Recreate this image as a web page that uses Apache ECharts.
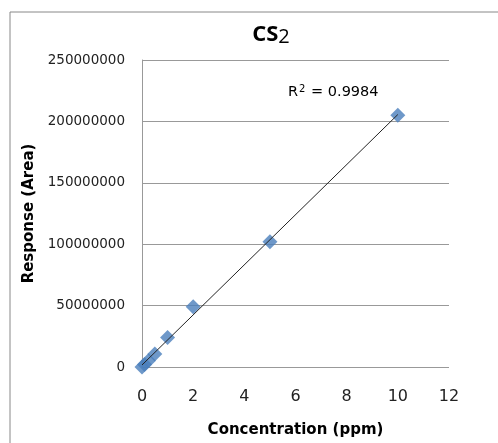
<!DOCTYPE html>
<html>
<head>
<meta charset="utf-8">
<script src="https://cdn.jsdelivr.net/npm/echarts@6/dist/echarts.min.js"></script>
<style>
html, body { margin: 0; padding: 0; background: #fff; }
#container { width: 498px; height: 443px; }
</style>
</head>
<body>
<div id="container"></div>
<script>
var concentration = [0, 0.1, 0.25, 0.5, 1, 2, 5, 10];
var response = [0, 2000000, 5000000, 10500000, 24000000, 49000000, 102000000, 205000000];
var xTicks = [0, 2, 4, 6, 8, 10, 12];
var yTicks = [0, 50000000, 100000000, 150000000, 200000000, 250000000];

var points = concentration.map(function (c, i) { return [c, response[i]]; });

// linear trendline from the data
var n = points.length, sx = 0, sy = 0, sxx = 0, sxy = 0;
points.forEach(function (p) { sx += p[0]; sy += p[1]; sxx += p[0] * p[0]; sxy += p[0] * p[1]; });
var slope = (n * sxy - sx * sy) / (n * sxx - sx * sx);
var icpt = (sy - slope * sx) / n;
var xMax = concentration[concentration.length - 1];
var trend = [[0, icpt], [xMax, icpt + slope * xMax]];

var font = 'Open Sans';
var wide = 'DejaVu Sans';
var dom = document.getElementById('container');
var myChart = echarts.init(dom);
var option = {
  animation: false,
  textStyle: { fontFamily: font },
  title: {
    text: '{a|CS}{b|2}',
    left: 266, top: 18,
    textAlign: 'center',
    textStyle: {
      rich: {
        a: { fontFamily: font, fontSize: 22, fontWeight: 'bold', color: '#000' },
        b: { fontFamily: font, fontSize: 20, fontWeight: 'normal', color: '#000', padding: [4, 0, 0, 0] }
      }
    }
  },
  graphic: [
    { type: 'rect', shape: { x: 10, y: 12, width: 520, height: 460 },
      style: { fill: 'none', stroke: '#888', lineWidth: 1 }, silent: true },
    { type: 'text', left: 288, top: 84,
      style: { text: '{a|R}{s|2}{a| = 0.9984}', fill: '#000',
        rich: {
          a: { fontFamily: wide, fontSize: 14.5, color: '#000' },
          s: { fontFamily: wide, fontSize: 10, color: '#000', verticalAlign: 'top', padding: [0, 1, 7, 1] }
        } } }
  ],
  grid: { left: 142, top: 60, right: 49, bottom: 75 },
  xAxis: {
    type: 'value', min: 0, max: 12, interval: 2,
    name: 'Concentration (ppm)', nameLocation: 'middle', nameGap: 56,
    nameTextStyle: { fontFamily: wide, fontSize: 15, fontWeight: 'bold', color: '#000' },
    axisLine: { show: false },
    axisTick: { show: false },
    splitLine: { show: false },
    axisLabel: { fontFamily: wide, fontSize: 16, color: '#222', margin: 22,
      formatter: function (v) { return xTicks.indexOf(v) >= 0 ? String(v) : ''; } }
  },
  yAxis: {
    type: 'value', min: 0, max: 250000000, interval: 50000000,
    name: 'Response (Area)', nameLocation: 'middle', nameGap: 104,
    nameTextStyle: { fontFamily: wide, fontSize: 15, fontWeight: 'bold', color: '#000' },
    axisLine: { show: true, lineStyle: { color: '#999', width: 1 } },
    axisTick: { show: false },
    splitLine: { lineStyle: { color: '#999', width: 1 } },
    axisLabel: { fontFamily: wide, fontSize: 13.5, color: '#222', margin: 17,
      formatter: function (v) { return yTicks.indexOf(v) >= 0 ? String(v) : ''; } }
  },
  series: [
    {
      type: 'line', data: trend, showSymbol: false, symbol: 'none',
      lineStyle: { color: '#222', width: 1 }, z: 3
    },
    {
      type: 'scatter', data: points, symbol: 'diamond', symbolSize: 15,
      itemStyle: { color: '#4A7EBB' }, z: 2
    }
  ]
};
myChart.setOption(option, true);
</script>
</body>
</html>
